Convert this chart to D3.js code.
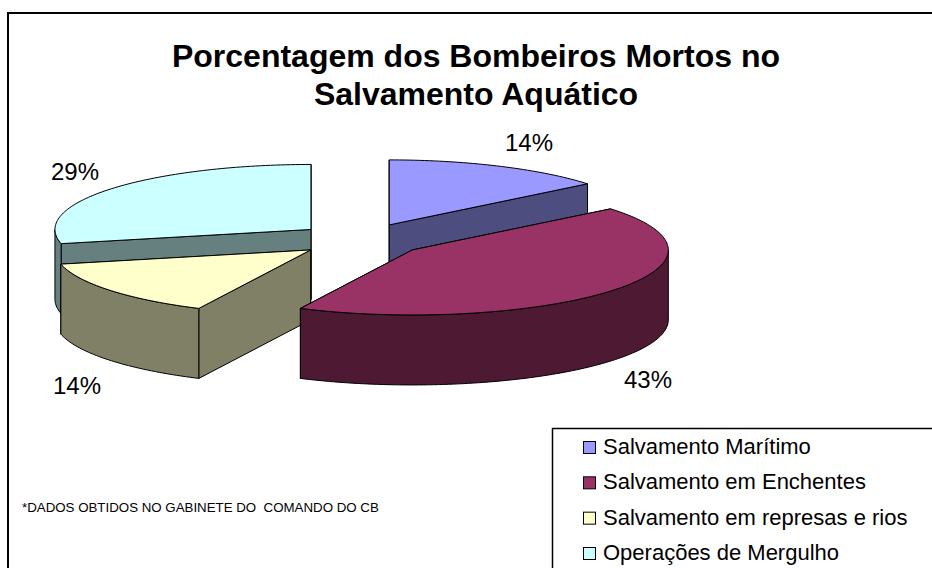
<!DOCTYPE html>
<html>
<head>
<meta charset="utf-8">
<script src="https://cdn.jsdelivr.net/npm/d3@7"></script>
<style>
  html, body { margin: 0; padding: 0; background: #fff; overflow: hidden; }
  text { font-family: "Liberation Sans", Arial, sans-serif; fill: #000; white-space: pre; }
</style>
</head>
<body>
<svg id="chart" width="932" height="568"></svg>
<script>
// Exploded 3D pie of firefighter deaths in water rescue
const categories = ["Salvamento Marítimo", "Salvamento em Enchentes", "Salvamento em represas e rios", "Operações de Mergulho"];
const values = [14.1, 43.1, 14.3, 28.5];
const topColors = ["#9999FF", "#993366", "#FFFFCC", "#CCFFFF"];
const sideColors = ["#4D4D80", "#4D1933", "#808066", "#668080"];
const titleLines = ["Porcentagem dos Bombeiros Mortos no", "Salvamento Aquático"];
const footnote = "*DADOS OBTIDOS NO GABINETE DO  COMANDO DO CB";
const labelPos = [[529, 151], [648, 388], [77, 394], [75, 180]];
const drawOrder = [3, 2, 0, 1]; // back to front

const cx = 361.5, cy = 239.75, rx = 256, ry = 65, depth = 70, explode = 0.253;

const svg = d3.select("#chart");

// frame runs off the right and bottom of the picture
svg.append("rect")
  .attr("x", 8).attr("y", 13)
  .attr("width", 1000).attr("height", 700)
  .attr("fill", "#fff").attr("stroke", "#000").attr("stroke-width", 2);

svg.selectAll(".title")
  .data(titleLines)
  .enter().append("text")
  .attr("class", "title")
  .attr("x", 476)
  .attr("y", (d, i) => 67 + i * 38)
  .attr("text-anchor", "middle")
  .attr("font-size", "32px")
  .attr("font-weight", "bold")
  .text(d => d);

const arcs = d3.pie().sort(null)(values);
const line = d3.line();

function point(d, a, drop) {
  const mid = (d.startAngle + d.endAngle) / 2;
  const ox = cx + explode * rx * Math.sin(mid);
  const oy = cy - explode * ry * Math.cos(mid);
  if (a === null) return [ox, oy + drop];
  return [ox + rx * Math.sin(a), oy - ry * Math.cos(a) + drop];
}

function arcPoints(d, a0, a1, drop) {
  const n = Math.max(2, Math.ceil((a1 - a0) / 0.02));
  return d3.range(n + 1).map(i => point(d, a0 + (a1 - a0) * i / n, drop));
}

const slices = svg.selectAll(".slice")
  .data(drawOrder.map(i => ({ arc: arcs[i], i: i })))
  .enter().append("g")
  .attr("class", "slice")
  .attr("stroke", "#000")
  .attr("stroke-width", 1)
  .attr("stroke-linejoin", "round");

slices.each(function (s) {
  const g = d3.select(this), d = s.arc, side = sideColors[s.i];

  // cut faces, the one further back first
  [d.startAngle, d.endAngle]
    .sort((a, b) => point(d, a, 0)[1] - point(d, b, 0)[1])
    .forEach(a => {
      g.append("path")
        .attr("fill", side)
        .attr("d", line([point(d, null, 0), point(d, a, 0), point(d, a, depth), point(d, null, depth)]) + "Z");
    });

  // outer wall, only the part facing the viewer
  const a0 = Math.max(d.startAngle, Math.PI / 2), a1 = Math.min(d.endAngle, Math.PI * 1.5);
  if (a1 > a0) {
    g.append("path")
      .attr("fill", side)
      .attr("d", line(arcPoints(d, a0, a1, 0).concat(arcPoints(d, a0, a1, depth).reverse())) + "Z");
  }

  // top face
  g.append("path")
    .attr("fill", topColors[s.i])
    .attr("d", line([point(d, null, 0)].concat(arcPoints(d, d.startAngle, d.endAngle, 0))) + "Z");
});

svg.selectAll(".pct")
  .data(arcs)
  .enter().append("text")
  .attr("class", "pct")
  .attr("x", (d, i) => labelPos[i][0])
  .attr("y", (d, i) => labelPos[i][1])
  .attr("text-anchor", "middle")
  .attr("font-size", "24px")
  .text(d => Math.round(d.value) + "%");

svg.append("text")
  .attr("x", 22).attr("y", 512)
  .attr("font-size", "13.3px")
  .text(footnote);

// legend
svg.append("rect")
  .attr("x", 552.5).attr("y", 428.5)
  .attr("width", 500).attr("height", 300)
  .attr("fill", "#fff").attr("stroke", "#000").attr("stroke-width", 1.5);

const legendY = d3.scaleLinear().domain([0, 3]).range([447, 553]);

const rows = svg.selectAll(".legend-row")
  .data(categories)
  .enter().append("g")
  .attr("class", "legend-row")
  .attr("transform", (d, i) => "translate(0," + legendY(i) + ")");

rows.append("rect")
  .attr("x", 583.5).attr("y", -5.5)
  .attr("width", 12).attr("height", 12)
  .attr("fill", (d, i) => topColors[i])
  .attr("stroke", "#000");

rows.append("text")
  .attr("x", 603).attr("y", 7)
  .attr("font-size", "22px")
  .text(d => d);
</script>
</body>
</html>
